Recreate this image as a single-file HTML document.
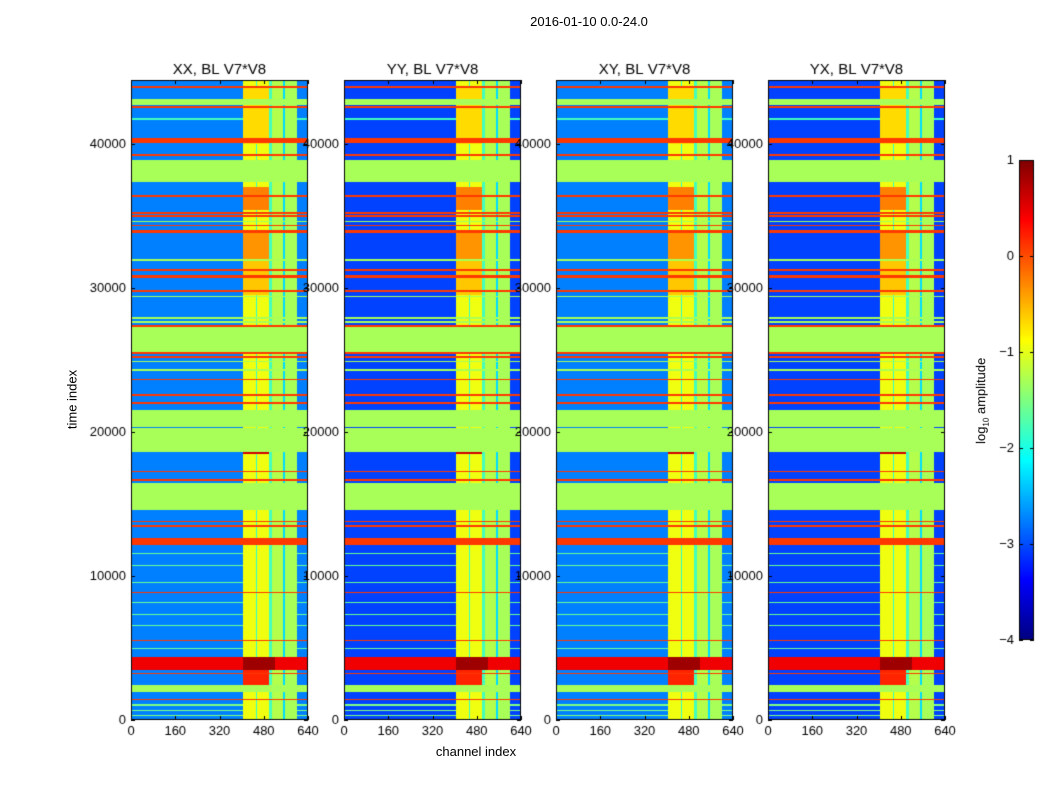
<!DOCTYPE html>
<html><head><meta charset="utf-8">
<style>
body{margin:0;background:#fff;width:1050px;height:800px;overflow:hidden;font-family:"Liberation Sans",sans-serif;}
#wrap{position:relative;width:1050px;height:800px;}
.t{position:absolute;font-size:13px;color:#000;white-space:nowrap;}
canvas{position:absolute;}
</style></head>
<body>
<div id="wrap">
<div class="t" style="left:489px;top:14px;width:200px;text-align:center;">2016-01-10 0.0-24.0</div>
<canvas id="cv" width="1050" height="800" style="left:0;top:0"></canvas>
<div class="t" style="left:32px;top:392px;width:80px;text-align:center;transform:rotate(-90deg);">time index</div>
<div class="t" style="left:406px;top:744px;width:140px;text-align:center;">channel index</div>
<div class="t" style="left:922px;top:392px;width:120px;text-align:center;transform:rotate(-90deg);">log<sub style="font-size:8px">10</sub> amplitude</div>
</div>
<script>
var panelTitles=["XX, BL V7*V8","YY, BL V7*V8","XY, BL V7*V8","YX, BL V7*V8"];
var panelBase=[-2.75,-3.05,-2.75,-3.05];
var yTicks=[0,10000,20000,30000,40000];
var xTicks=[0,160,320,480,640];
var cbTicks=[1,0,-1,-2,-3,-4];
// column bands [ch0, ch1, value]
var colBands=[[405,451,-0.95],[451,457,-1.9],[457,499,-0.95],[499,509,-1.8],[509,548,-1.25],[548,556,-2.3],[556,599,-1.3]];
// full-width row bands [t0, t1, value]
var rowBands=[
[43900,44050,0.1],[42700,43100,-1.3],[42520,42660,0.1],[41680,41790,-1.8],
[40100,40420,0.1],[39180,39290,0.1],[37384,38889,-1.3],
[36330,36440,0.1],[35170,35290,0.1],[34940,35060,0.1],[34550,34650,-1.3],[34270,34390,0.1],[33840,34030,0.1],
[31890,31990,-1.3],[31190,31310,0.1],[30700,30870,0.1],[29740,29840,0.1],[29350,29450,-1.3],
[27840,27950,-1.3],[27600,27710,-1.3],[27300,27420,0.1],[25576,27312,-1.3],
[25400,25520,0.1],[25170,25290,0.1],[24830,24930,-1.3],[24250,24350,-1.3],[23600,23710,0.1],[22510,22620,0.1],
[21930,22050,0.1],[20370,21528,-1.3],[18634,20278,-1.3],[17190,17300,0.1],[16610,16720,0.1],
[14583,16458,-1.3],[13720,13830,0.1],[13420,13530,0.1],[12150,12615,0.1],
[11500,11580,-1.6],[10700,10780,-1.6],[9500,9580,-1.6],[8790,8890,0.1],[8100,8180,-1.6],[7300,7380,-1.6],
[6500,6580,-1.6],[5460,5560,0.1],[4950,5030,-1.6],
[3472,4398,0.45],[3190,3290,0.1],[1968,2430,-1.3],[1380,1490,0.1],[1000,1080,-1.5],[600,680,-1.5],[250,330,-1.5]
];
// hot patches inside the bright columns [t0, t1, ch0, ch1, value]
var hotPatches=[
[35400,37000,405,499,-0.25],[32000,34000,405,499,-0.35],[29500,32000,405,499,-0.6],[40000,44000,405,499,-0.7],
[18450,18600,405,499,0.6],[3472,4398,405,520,0.85],[2430,3472,405,499,0.2]
];
var tMax=44440, chMax=640;
var panelX=[131,344,556,768], panelW=177, panelTop=80, panelBot=720;

function jet(x){x=Math.max(0,Math.min(1,x));function c(v){return Math.round(255*Math.max(0,Math.min(1,v)));}
 return 'rgb('+c(1.5-Math.abs(4*x-3))+','+c(1.5-Math.abs(4*x-2))+','+c(1.5-Math.abs(4*x-1))+')';}
function norm(v){return (v+4)/5;}
function yS(t){return panelBot-(t/tMax)*(panelBot-panelTop);}
function xS(i,ch){return panelX[i]+ch/chMax*panelW;}
function value(p,t,ch){
 var v=null;
 for(var k=0;k<rowBands.length;k++){var b=rowBands[k];if(t>=b[0]&&t<b[1])v=b[2];}
 if(v!==null && v<-1.0 && v>-1.4) return v;
 if(v!==null && v>0.3){for(var k=0;k<hotPatches.length;k++){var h=hotPatches[k];if(t>=h[0]&&t<h[1]&&ch>=h[2]&&ch<h[3])return h[4];}return v;}
 if(v!==null && v>-0.2) return v;
 for(var k=0;k<hotPatches.length;k++){var h=hotPatches[k];if(t>=h[0]&&t<h[1]&&ch>=h[2]&&ch<h[3])return h[4];}
 for(var k=0;k<colBands.length;k++){var c=colBands[k];if(ch>=c[0]&&ch<c[1])return c[2];}
 if(v!==null) return v;
 return panelBase[p];
}
var cv=document.getElementById('cv');var ctx=cv.getContext('2d');
ctx.font='13px "Liberation Sans", sans-serif';
for(var p=0;p<4;p++){
 for(var py=panelTop;py<panelBot;py++){
  var t=(panelBot-py-0.5)/(panelBot-panelTop)*tMax;
  for(var px=0;px<panelW;px++){
   var ch=(px+0.5)/panelW*chMax;
   ctx.fillStyle=jet(norm(value(p,t,ch)));
   ctx.fillRect(panelX[p]+px,py,1,1);
  }
 }
 ctx.strokeStyle='#000';ctx.lineWidth=1;
 ctx.strokeRect(panelX[p]+0.5,panelTop+0.5,panelW-1,panelBot-panelTop-1);
 ctx.fillStyle='#000';
 ctx.textAlign='center';ctx.textBaseline='alphabetic';
 ctx.font='15px "Liberation Sans", sans-serif';
 ctx.fillText(panelTitles[p],panelX[p]+panelW/2,74);
 ctx.font='13px "Liberation Sans", sans-serif';
 ctx.textBaseline='top';
 xTicks.forEach(function(v){var x=Math.round(xS(p,v))+0.5;
  ctx.beginPath();ctx.moveTo(x,panelBot);ctx.lineTo(x,panelBot-4);ctx.moveTo(x,panelTop);ctx.lineTo(x,panelTop+4);ctx.stroke();
  ctx.fillText(String(v),xS(p,v),725);});
 ctx.textAlign='right';ctx.textBaseline='middle';
 yTicks.forEach(function(v){var y=Math.round(yS(v))+0.5;
  ctx.beginPath();ctx.moveTo(panelX[p],y);ctx.lineTo(panelX[p]+4,y);ctx.moveTo(panelX[p]+panelW,y);ctx.lineTo(panelX[p]+panelW-4,y);ctx.stroke();
  ctx.fillText(String(v),panelX[p]-5,yS(v));});
}
// colorbar
var cbX=1019,cbW=15,cbTop=160,cbBot=640;
for(var y=cbTop;y<cbBot;y++){ctx.fillStyle=jet(1-(y-cbTop+0.5)/(cbBot-cbTop));ctx.fillRect(cbX,y,cbW,1);}
ctx.strokeStyle='#000';ctx.strokeRect(cbX+0.5,cbTop+0.5,cbW-1,cbBot-cbTop-1);
ctx.fillStyle='#000';ctx.textAlign='right';ctx.textBaseline='middle';
cbTicks.forEach(function(v){var y=cbBot-(v+4)/5*(cbBot-cbTop);var yy=Math.round(y)+0.5;
 ctx.beginPath();ctx.moveTo(cbX,yy);ctx.lineTo(cbX+4,yy);ctx.moveTo(cbX+cbW,yy);ctx.lineTo(cbX+cbW-4,yy);ctx.stroke();
 ctx.fillText(v<0?'\u2212'+Math.abs(v):String(v),1014,y);});
</script>
</body></html>
